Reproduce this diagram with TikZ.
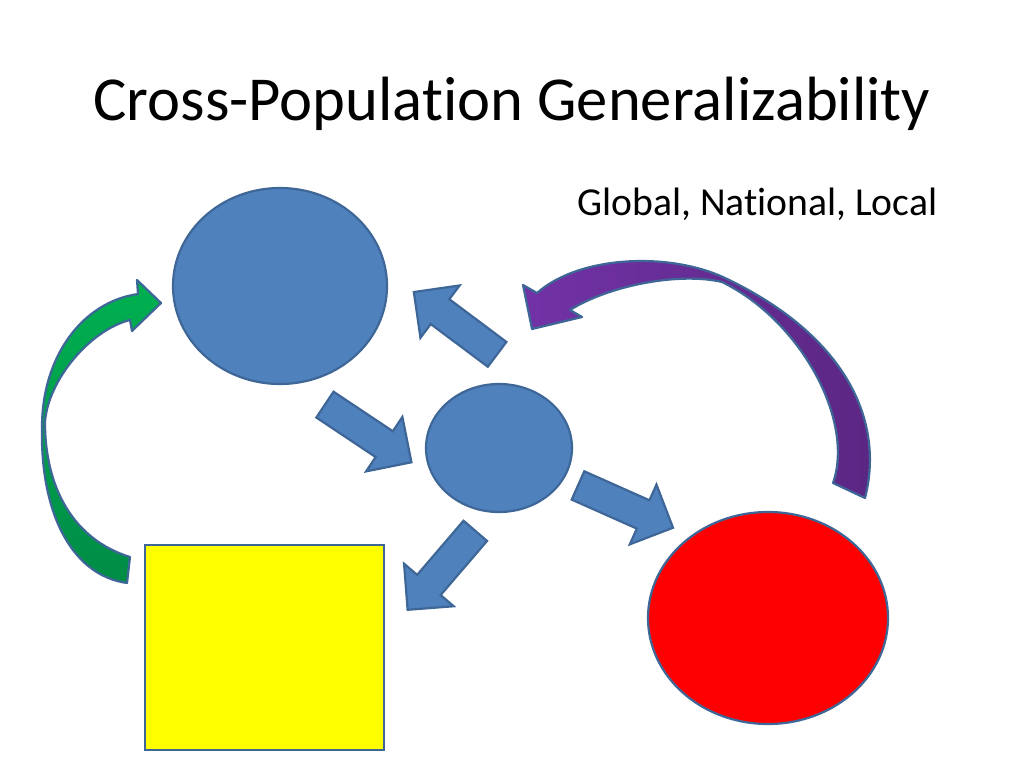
\documentclass[tikz,border=0pt]{standalone}
\usepackage{fontspec}
\setmainfont{Carlito}[RawFeature=-liga]
\usetikzlibrary{shapes.geometric,shapes.arrows}

\definecolor{slideblue}{HTML}{4F81BD}
\definecolor{edgeblue}{HTML}{3E6797}
\definecolor{greenlight}{HTML}{00B050}
\definecolor{greendark}{HTML}{008C46}
\definecolor{purplelight}{HTML}{7232A6}
\definecolor{purpledark}{HTML}{5A2682}
\definecolor{slideyellow}{HTML}{FFFF00}

\begin{document}
\begin{tikzpicture}[x=0.25mm,y=-0.25mm]
        \tikzstyle{every node}=[inner sep=0pt]
        \tikzstyle{blob}=[ellipse, draw=edgeblue, line width=0.55mm, fill=slideblue]
        \tikzstyle{blockarrow}=[single arrow, draw=edgeblue, line width=0.55mm, fill=slideblue, inner xsep=0pt, inner ysep=3.6mm, minimum height=26mm, single arrow head extend=4.3mm, anchor=tail]
        \tikzstyle{ribbon}=[draw=edgeblue, line width=0.55mm, line join=round]
        \useasboundingbox (0,0) rectangle (1024,768);
        \node[font=\fontsize{44.5}{54}\selectfont, anchor=base] (title) at (512,120) {Cross-Population Generalizability};
        \node[font=\fontsize{28.2}{34}\selectfont, anchor=base west] (levels) at (577,215) {Global, National, Local};
        \node[blob, minimum width=53.5mm, minimum height=49mm] (global) at (280,286) {};
        \node[blob, minimum width=36.5mm, minimum height=32mm] (national) at (499,448) {};
        \node[ellipse, draw=edgeblue, line width=0.55mm, fill=red, minimum width=60mm, minimum height=53mm] (local) at (768,618) {};
        \node[draw=edgeblue, line width=0.55mm, fill=slideyellow, minimum width=59.75mm, minimum height=51.25mm] (sample) at (264.5,647.5) {};
        \node[blockarrow, rotate=143.2] (up) at (498,355) {};
        \node[blockarrow, rotate=-33.7] (down) at (324,404) {};
        \node[blockarrow, rotate=-24] (right) at (577,485) {};
        \node[blockarrow, rotate=229.4] (left) at (476,530) {};
        % curved arrows
        \draw[ribbon, top color=greenlight, bottom color=greendark] (130,557) .. controls (75,540) and (45,490) .. (45,422) .. controls (48,380) and (90,330) .. (130,320) -- (132,331) -- (161,303) -- (137,280) -- (138,294) .. controls (82,302) and (42,357) .. (42,427) .. controls (40,510) and (70,575) .. (127,583) -- cycle;
        \draw[ribbon, left color=purplelight, right color=purpledark] (865,498) .. controls (885,420) and (845,335) .. (725,278) .. controls (670,252) and (580,255) .. (537,293) -- (523,285) -- (532,329) -- (582,317) -- (570,310) .. controls (610,285) and (680,272) .. (722,282) .. controls (800,320) and (855,420) .. (833,483) -- cycle;
    \end{tikzpicture}
\end{document}
